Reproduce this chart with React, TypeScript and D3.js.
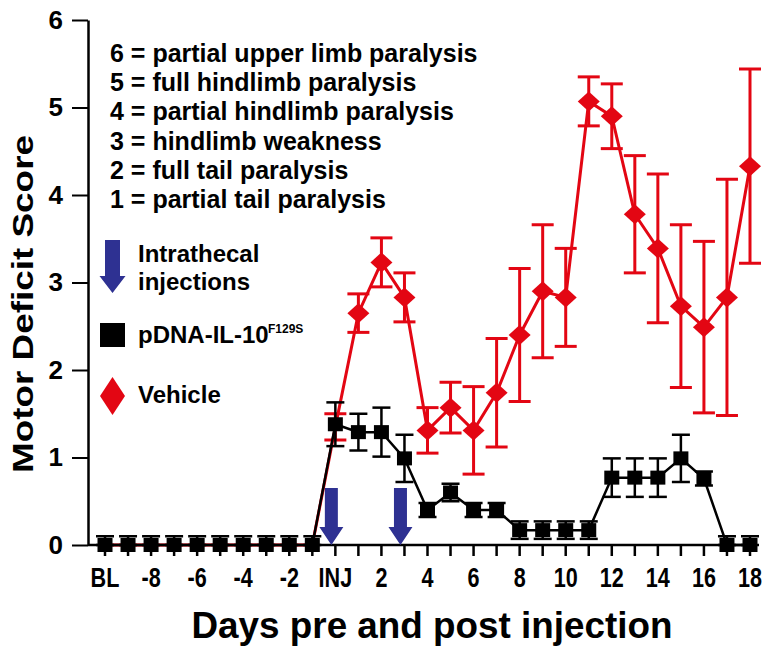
import React, { useEffect, useRef } from "react"
import * as d3 from "d3"

// days relative to injection; BL = baseline (day -10)
const days = [-10, -9, -8, -7, -6, -5, -4, -3, -2, -1, 0, 1, 2, 3, 4, 5, 6, 7, 8, 9, 10, 11, 12, 13, 14, 15, 16, 17, 18]

// pDNA-IL-10 F129S group
const il10Mean = [0, 0, 0, 0, 0, 0, 0, 0, 0, 0, 1.38, 1.29, 1.29, 0.99, 0.4, 0.6, 0.4, 0.4, 0.17, 0.17, 0.17, 0.17, 0.77, 0.77, 0.77, 0.99, 0.76, 0, 0]
const il10Sem = [0.1, 0.1, 0.1, 0.1, 0.1, 0.1, 0.1, 0.1, 0.1, 0.1, 0.25, 0.21, 0.28, 0.27, 0.08, 0.1, 0.08, 0.08, 0.1, 0.1, 0.1, 0.1, 0.22, 0.22, 0.22, 0.27, 0.08, 0.1, 0.1]

// Vehicle group
const vehicleMean = [0, 0, 0, 0, 0, 0, 0, 0, 0, 0, 1.35, 2.65, 3.23, 2.83, 1.31, 1.57, 1.31, 1.74, 2.4, 2.9, 2.83, 5.07, 4.9, 3.78, 3.39, 2.73, 2.49, 2.83, 4.33]
const vehicleSem = [0, 0, 0, 0, 0, 0, 0, 0, 0, 0, 0.15, 0.22, 0.28, 0.28, 0.26, 0.29, 0.5, 0.62, 0.76, 0.76, 0.56, 0.28, 0.37, 0.67, 0.85, 0.93, 0.98, 1.35, 1.11]

const tickDays = [-10, -8, -6, -4, -2, 0, 2, 4, 6, 8, 10, 12, 14, 16, 18]
const tickLabels = ["BL", "-8", "-6", "-4", "-2", "INJ", "2", "4", "6", "8", "10", "12", "14", "16", "18"]
const yTicks = [0, 1, 2, 3, 4, 5, 6]
const injectionDays = [0, 3]

const scoreKey = [
  "6 = partial upper limb paralysis",
  "5 = full hindlimb paralysis",
  "4 = partial hindlimb paralysis",
  "3 = hindlimb weakness",
  "2 = full tail paralysis",
  "1 = partial tail paralysis",
]

const RED = "#e30613"
const BLUE = "#2e3192"
const FONT = "'Liberation Sans', Arial, sans-serif"

const x = d3.scaleLinear().domain([-10, 18]).range([105, 750])
const y = d3.scaleLinear().domain([0, 6]).range([545, 20])

const il10 = days.map((d, i) => ({ day: d, m: il10Mean[i], s: il10Sem[i] }))
const vehicle = days.map((d, i) => ({ day: d, m: vehicleMean[i], s: vehicleSem[i] }))

const line = d3.line<any>().x(d => x(d.day)).y(d => y(d.m))

const diamond = (cx, cy, w, h) => `M${cx},${cy - h / 2}L${cx + w / 2},${cy}L${cx},${cy + h / 2}L${cx - w / 2},${cy}Z`

const arrow = (cx, top, bottom, shaft, head, headLen) =>
  `M${cx - shaft / 2},${top}L${cx + shaft / 2},${top}L${cx + shaft / 2},${bottom - headLen}` +
  `L${cx + head / 2},${bottom - headLen}L${cx},${bottom}L${cx - head / 2},${bottom - headLen}` +
  `L${cx - shaft / 2},${bottom - headLen}Z`

const ErrorBars = ({ data, color, cap, width }) => (
  <g stroke={color} strokeWidth={width}>
    {data.filter(d => d.s > 0).map(d => {
      const lo = y(Math.max(0, d.m - d.s))
      const hi = y(d.m + d.s)
      const cx = x(d.day)
      return (
        <g key={d.day}>
          <line x1={cx} x2={cx} y1={lo} y2={hi} />
          <line x1={cx - cap / 2} x2={cx + cap / 2} y1={hi} y2={hi} />
          <line x1={cx - cap / 2} x2={cx + cap / 2} y1={lo} y2={lo} />
        </g>
      )
    })}
  </g>
)

export default function App() {
  const yAxisRef = useRef(null)

  useEffect(() => {
    const g = d3.select(yAxisRef.current)
    g.call(d3.axisLeft(y).tickValues(yTicks).tickFormat(d3.format("d")).tickSize(16).tickSizeOuter(0).tickPadding(9))
    g.select(".domain").attr("stroke-width", 2.5)
    g.selectAll(".tick line").attr("stroke-width", 2)
    g.selectAll(".tick text")
      .attr("font-family", FONT)
      .attr("font-size", 26)
      .attr("font-weight", "bold")
      .attr("fill", "#000")
  }, [])

  return (
    <svg width={775} height={658} style={{ position: "absolute", left: 0, top: 0, background: "#fff" }}>
      {/* x axis */}
      <line x1={88} x2={x(18)} y1={y(0)} y2={y(0)} stroke="#000" strokeWidth={2.5} />
      {days.map(d => (
        <line key={d} x1={x(d)} x2={x(d)} y1={y(0)} y2={y(0) + 11} stroke="#000" strokeWidth={2.5} />
      ))}
      {tickDays.map((d, i) => (
        <text key={d} transform={`translate(${x(d)},587) scale(0.8,1)`} textAnchor="middle" fontFamily={FONT}
          fontWeight="bold" fontSize={27}>
          {tickLabels[i]}
        </text>
      ))}
      <g ref={yAxisRef} transform="translate(88,0)" />

      <text x={432} y={638} textAnchor="middle" fontFamily={FONT} fontWeight="bold" fontSize={37}
        textLength={481} lengthAdjust="spacingAndGlyphs">Days pre and post injection</text>
      <text transform="translate(33,304) rotate(-90)" textAnchor="middle" fontFamily={FONT} fontWeight="bold"
        fontSize={29} textLength={338} lengthAdjust="spacingAndGlyphs">Motor Deficit Score</text>

      {/* score key */}
      {scoreKey.map((t, i) => (
        <text key={t} x={110} y={62 + i * 29.2} fontFamily={FONT} fontWeight="bold" fontSize={25}>{t}</text>
      ))}

      {/* legend */}
      <path d={arrow(112.5, 240, 293, 15, 26, 17)} fill={BLUE} />
      <text x={138} y={262} fontFamily={FONT} fontWeight="bold" fontSize={24}>Intrathecal</text>
      <text x={138} y={290} fontFamily={FONT} fontWeight="bold" fontSize={24}>injections</text>
      <rect x={100} y={323} width={25} height={24} fill="#000" />
      <text x={138} y={343} fontFamily={FONT} fontWeight="bold" fontSize={24}>pDNA-IL-10</text>
      <text x={268} y={333} fontFamily={FONT} fontWeight="bold" fontSize={12}>F129S</text>
      <path d={diamond(112.5, 396, 25, 38)} fill={RED} />
      <text x={138} y={403} fontFamily={FONT} fontWeight="bold" fontSize={24}>Vehicle</text>

      {/* vehicle */}
      <ErrorBars data={vehicle} color={RED} cap={22} width={3} />
      <path d={line(vehicle)} fill="none" stroke={RED} strokeWidth={3} />
      {vehicle.filter(d => d.day > 0).map(d => (
        <path key={d.day} d={diamond(x(d.day), y(d.m), 22, 20)} fill={RED} />
      ))}

      {/* pDNA-IL-10 */}
      <ErrorBars data={il10} color="#000" cap={18} width={2.5} />
      <path d={line(il10)} fill="none" stroke="#000" strokeWidth={2.5} />
      {il10.map(d => (
        <rect key={d.day} x={x(d.day) - 7.5} y={y(d.m) - 7} width={15} height={14} fill="#000" />
      ))}

      {/* injection arrows */}
      {injectionDays.map(d => (
        <path key={d} d={arrow(x(d) - 4, 488, 545, 13, 24, 18)} fill={BLUE} />
      ))}
    </svg>
  )
}
